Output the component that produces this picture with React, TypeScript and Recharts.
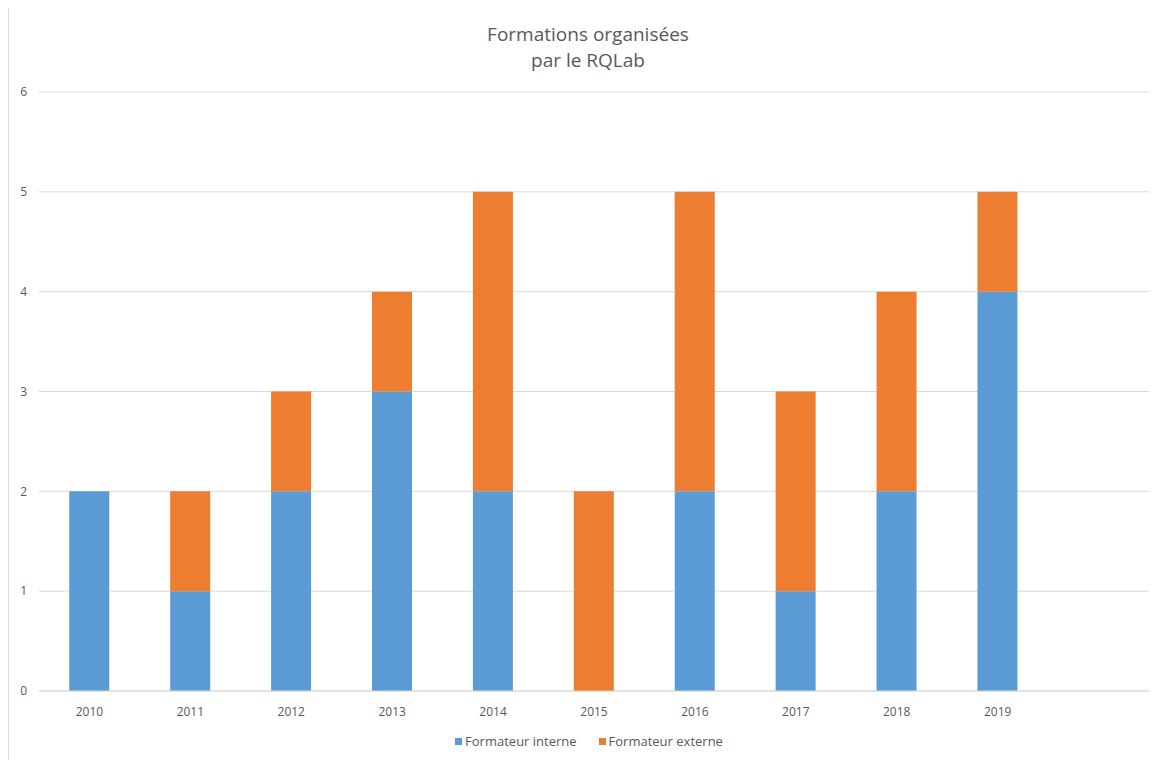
import React from "react";
import { BarChart, Bar, XAxis, YAxis, CartesianGrid, Legend } from "recharts";

const years = ["2010", "2011", "2012", "2013", "2014", "2015", "2016", "2017", "2018", "2019", ""];
const interne = [2, 1, 2, 3, 2, 0, 2, 1, 2, 4, null];
const externe = [0, 1, 1, 1, 3, 2, 3, 2, 2, 1, null];
const yTicks = [0, 1, 2, 3, 4, 5, 6];

const data = years.map((y, i) => ({ year: y, interne: interne[i], externe: externe[i] }));

const FONT = "'Open Sans', 'Noto Sans', sans-serif";
const TEXT = "#595959";
const BLUE = "#5B9BD5";
const ORANGE = "#ED7D31";

const legendItems = [
  { label: "Formateur interne", color: BLUE },
  { label: "Formateur externe", color: ORANGE },
];

function LegendContent() {
  return (
    <div style={{ display: "flex", justifyContent: "center", alignItems: "center", fontFamily: FONT, fontSize: 13, color: TEXT, height: 20 }}>
      {legendItems.map((it, i) => (
        <div key={it.label} style={{ display: "flex", alignItems: "center", marginLeft: i === 0 ? 0 : 22 }}>
          <span style={{ display: "inline-block", width: 7, height: 7, background: it.color, marginRight: 3 }} />
          <span>{it.label}</span>
        </div>
      ))}
    </div>
  );
}

export default function App() {
  return (
    <div
      style={{
        position: "relative",
        width: 1160,
        height: 760,
        marginTop: -1,
        borderTop: "1px solid #D9D9D9",
        borderLeft: "1px solid #D9D9D9",
        background: "#fff",
      }}
    >
      <div
        style={{
          position: "absolute",
          left: 0,
          top: 13,
          width: 1158,
          textAlign: "center",
          fontFamily: FONT,
          fontSize: 19,
          lineHeight: "26px",
          color: TEXT,
        }}
      >
        Formations organisées
        <br />
        par le RQLab
      </div>
      <BarChart
        width={1160}
        height={752}
        data={data}
        margin={{ top: 84, right: 20, left: 0, bottom: 19 }}
        barCategoryGap="30%"
      >
        <CartesianGrid vertical={false} stroke="#D9D9D9" strokeWidth={1} />
        <XAxis
          dataKey="year"
          axisLine={{ stroke: "#D9D9D9" }}
          tickLine={false}
          tick={{ fill: TEXT, fontSize: 12, fontFamily: FONT }}
          tickMargin={10}
          height={30}
          interval={0}
        />
        <YAxis
          domain={[0, 6]}
          ticks={yTicks}
          axisLine={false}
          tickLine={false}
          tick={{ fill: TEXT, fontSize: 12, fontFamily: FONT }}
          width={30}
          tickMargin={6}
        />
        <Legend
          content={<LegendContent />}
          verticalAlign="bottom"
          wrapperStyle={{ height: 20, top: 723, bottom: "auto", left: 10 }}
        />
        <Bar dataKey="interne" stackId="a" fill={BLUE} isAnimationActive={false} />
        <Bar dataKey="externe" stackId="a" fill={ORANGE} isAnimationActive={false} />
      </BarChart>
    </div>
  );
}
